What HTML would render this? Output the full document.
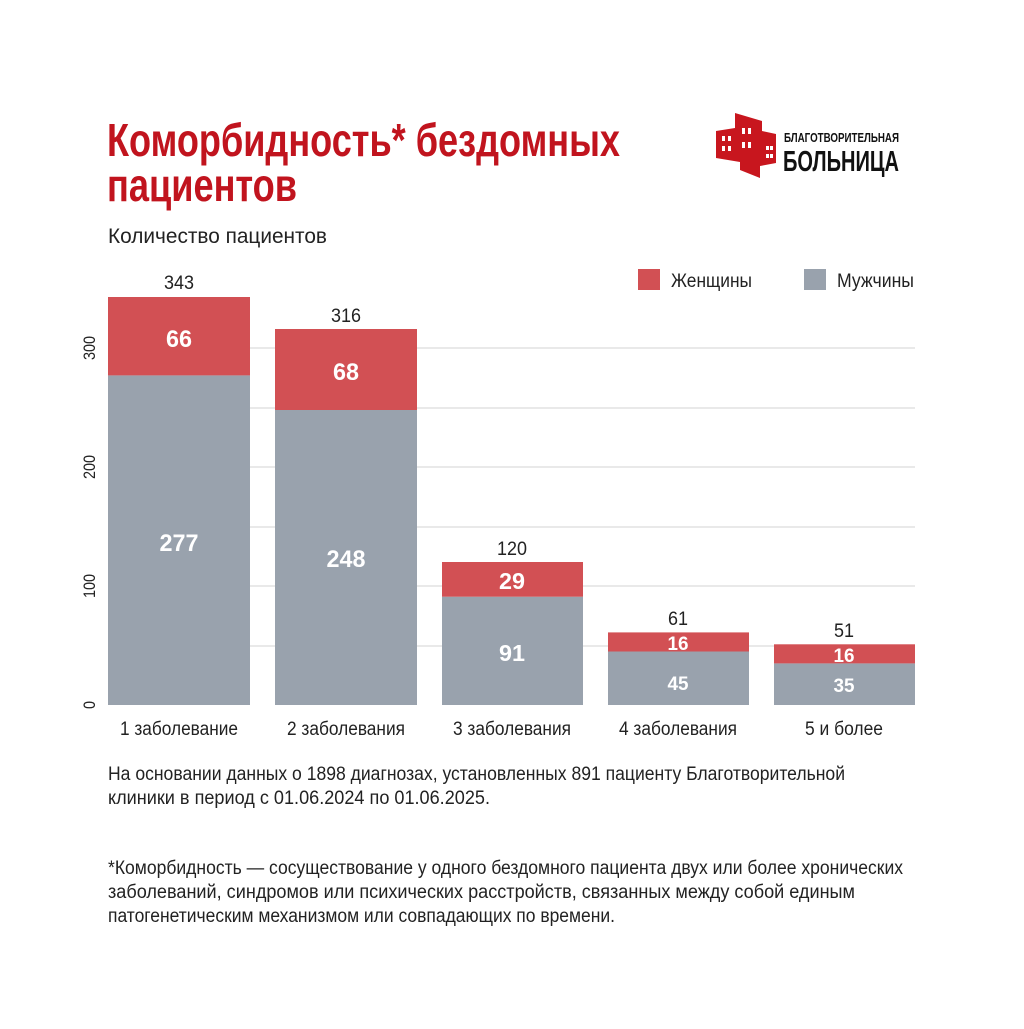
<!DOCTYPE html>
<html><head><meta charset="utf-8"><style>
body{margin:0;background:#fff;}
svg text{font-family:"Liberation Sans Narrow","Liberation Sans",sans-serif;}
</style></head><body>
<svg width="1024" height="1024" viewBox="0 0 1024 1024" xmlns="http://www.w3.org/2000/svg">
<rect width="1024" height="1024" fill="#fff"/>
<text x="107" y="156" font-size="46" font-weight="bold" fill="#c1141e" textLength="513" lengthAdjust="spacingAndGlyphs">Коморбидность* бездомных</text>
<text x="107" y="201" font-size="46" font-weight="bold" fill="#c1141e" textLength="190" lengthAdjust="spacingAndGlyphs">пациентов</text>
<text x="108" y="243" font-size="21" fill="#222" textLength="219" lengthAdjust="spacingAndGlyphs">Количество пациентов</text>
<!-- logo -->
<g fill="#c8161e">
<polygon points="735,113 762,121 762,131 776,134 776,163 760,166 760,178 740,170 740,162 716,158 716,131 735,128"/>
</g>
<g fill="#fff">
<rect x="722" y="136" width="3" height="5"/><rect x="728" y="136" width="3" height="5"/>
<rect x="722" y="146" width="3" height="5"/><rect x="728" y="146" width="3" height="5"/>
<rect x="742" y="128" width="3" height="6"/><rect x="748" y="128" width="3" height="6"/>
<rect x="742" y="142" width="3" height="6"/><rect x="748" y="142" width="3" height="6"/>
<rect x="766" y="146" width="3" height="4"/><rect x="770" y="146" width="3" height="4"/>
<rect x="766" y="154" width="3" height="4"/><rect x="770" y="154" width="3" height="4"/>
</g>
<text x="784" y="142" font-size="13" font-weight="bold" fill="#111" textLength="115" lengthAdjust="spacingAndGlyphs">БЛАГОТВОРИТЕЛЬНАЯ</text>
<text x="783" y="171" font-size="29" font-weight="bold" fill="#111" textLength="116" lengthAdjust="spacingAndGlyphs">БОЛЬНИЦА</text>
<!-- legend -->
<rect x="638" y="269" width="22" height="21" fill="#d25054"/>
<text x="671" y="287" font-size="19" fill="#222" textLength="81" lengthAdjust="spacingAndGlyphs">Женщины</text>
<rect x="804" y="269" width="22" height="21" fill="#99a2ad"/>
<text x="837" y="287" font-size="19" fill="#222" textLength="77" lengthAdjust="spacingAndGlyphs">Мужчины</text>
<!-- grid -->
<g stroke="#dcdcdc" stroke-width="1.3">
<line x1="108" x2="915" y1="348" y2="348"/><line x1="108" x2="915" y1="408" y2="408"/>
<line x1="108" x2="915" y1="467" y2="467"/><line x1="108" x2="915" y1="527" y2="527"/>
<line x1="108" x2="915" y1="586" y2="586"/><line x1="108" x2="915" y1="646" y2="646"/>
</g>
<!-- y ticks -->
<g font-size="17" fill="#222" text-anchor="middle">
<text transform="translate(95,705) rotate(-90) scale(0.85,1)">0</text>
<text transform="translate(95,586) rotate(-90) scale(0.85,1)">100</text>
<text transform="translate(95,467) rotate(-90) scale(0.85,1)">200</text>
<text transform="translate(95,348) rotate(-90) scale(0.85,1)">300</text>
</g>
<!-- bars -->
<g fill="#99a2ad">
<rect x="108" y="375.4" width="142" height="329.6"/>
<rect x="275" y="410" width="142" height="295"/>
<rect x="442" y="596.7" width="141" height="108.3"/>
<rect x="608" y="651.5" width="141" height="53.5"/>
<rect x="774" y="663.4" width="141" height="41.6"/>
</g>
<g fill="#d25054">
<rect x="108" y="297" width="142" height="78.4"/>
<rect x="275" y="329" width="142" height="81"/>
<rect x="442" y="562" width="141" height="34.7"/>
<rect x="608" y="632.4" width="141" height="19.1"/>
<rect x="774" y="644.3" width="141" height="19.1"/>
</g>
<g fill="#fff" font-weight="bold" text-anchor="middle">
<text x="179" y="347" font-size="24" textLength="26" lengthAdjust="spacingAndGlyphs">66</text>
<text x="179" y="551" font-size="24" textLength="39" lengthAdjust="spacingAndGlyphs">277</text>
<text x="346" y="380" font-size="24" textLength="26" lengthAdjust="spacingAndGlyphs">68</text>
<text x="346" y="567" font-size="24" textLength="39" lengthAdjust="spacingAndGlyphs">248</text>
<text x="512" y="589" font-size="23" textLength="26" lengthAdjust="spacingAndGlyphs">29</text>
<text x="512" y="661" font-size="23" textLength="26" lengthAdjust="spacingAndGlyphs">91</text>
<text x="678" y="650" font-size="19" textLength="21" lengthAdjust="spacingAndGlyphs">16</text>
<text x="678" y="690" font-size="19" textLength="21" lengthAdjust="spacingAndGlyphs">45</text>
<text x="844" y="662" font-size="19" textLength="21" lengthAdjust="spacingAndGlyphs">16</text>
<text x="844" y="692" font-size="19" textLength="21" lengthAdjust="spacingAndGlyphs">35</text>
</g>
<g fill="#222" font-size="19" text-anchor="middle">
<text x="179" y="289" textLength="30" lengthAdjust="spacingAndGlyphs">343</text>
<text x="346" y="322" textLength="30" lengthAdjust="spacingAndGlyphs">316</text>
<text x="512" y="555" textLength="30" lengthAdjust="spacingAndGlyphs">120</text>
<text x="678" y="625" textLength="20" lengthAdjust="spacingAndGlyphs">61</text>
<text x="844" y="637" textLength="20" lengthAdjust="spacingAndGlyphs">51</text>
<text x="179" y="735" textLength="118" lengthAdjust="spacingAndGlyphs">1 заболевание</text>
<text x="346" y="735" textLength="118" lengthAdjust="spacingAndGlyphs">2 заболевания</text>
<text x="512" y="735" textLength="118" lengthAdjust="spacingAndGlyphs">3 заболевания</text>
<text x="678" y="735" textLength="118" lengthAdjust="spacingAndGlyphs">4 заболевания</text>
<text x="844" y="735" textLength="78" lengthAdjust="spacingAndGlyphs">5 и более</text>
</g>
<g fill="#222" font-size="19">
<text x="108" y="780" textLength="737" lengthAdjust="spacingAndGlyphs">На основании данных о 1898 диагнозах, установленных 891 пациенту Благотворительной</text>
<text x="108" y="804" textLength="382" lengthAdjust="spacingAndGlyphs">клиники в период с 01.06.2024 по 01.06.2025.</text>
<text x="108" y="874" textLength="795" lengthAdjust="spacingAndGlyphs">*Коморбидность — сосуществование у одного бездомного пациента двух или более хронических</text>
<text x="108" y="898" textLength="747" lengthAdjust="spacingAndGlyphs">заболеваний, синдромов или психических расстройств, связанных между собой единым</text>
<text x="108" y="922" textLength="507" lengthAdjust="spacingAndGlyphs">патогенетическим механизмом или совпадающих по времени.</text>
</g>
</svg>
</body></html>
